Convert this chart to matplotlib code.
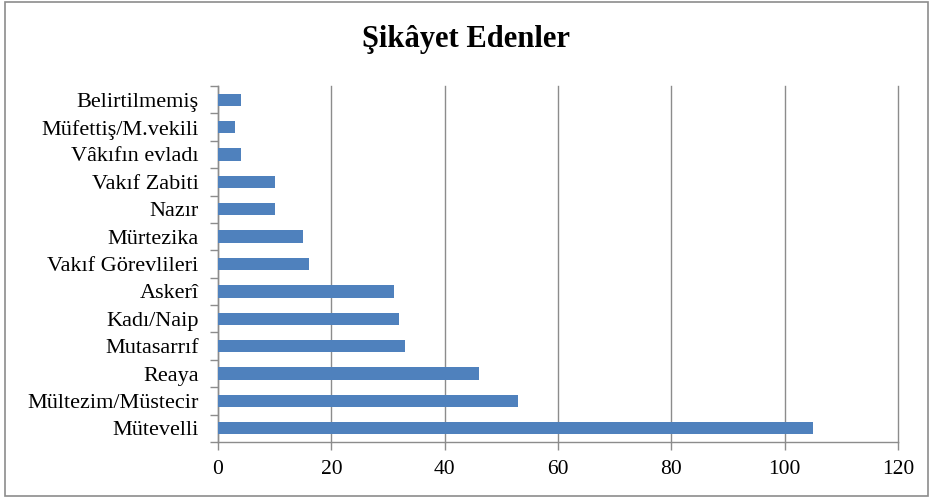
import matplotlib.pyplot as plt
import numpy as np

# veriler (alttan uste)
kategoriler = ['Mütevelli', 'Mültezim/Müstecir', 'Reaya', 'Mutasarrıf', 'Kadı/Naip',
               'Askerî', 'Vakıf Görevlileri', 'Mürtezika', 'Nazır', 'Vakıf Zabiti',
               'Vâkıfın evladı', 'Müfettiş/M.vekili', 'Belirtilmemiş']
degerler = [105, 53, 46, 33, 32, 31, 16, 15, 10, 10, 4, 3, 4]
x_ticks = [0, 20, 40, 60, 80, 100, 120]

plt.rcParams['font.family'] = ['Liberation Serif', 'DejaVu Serif']

fig = plt.figure(figsize=(9.31, 4.99), dpi=100)
ax = fig.add_axes([218 / 931, 1 - 442 / 499, 680 / 931, 356 / 499])

# cerceve
fig.patches.append(plt.Rectangle((5 / 931, 3 / 499), 923 / 931, 494 / 499,
                                 transform=fig.transFigure, fill=False,
                                 edgecolor='#8c8c8c', linewidth=1.2))

y = np.arange(len(kategoriler))
ax.barh(y, degerler, height=0.45, color='#4f81bd', zorder=3)

ax.set_xlim(0, 120)
ax.set_ylim(-0.5, len(kategoriler) - 0.5)
ax.set_xticks(x_ticks)
ax.set_xticklabels([str(t) for t in x_ticks], fontsize=15.5)
ax.set_yticks(y)
ax.set_yticklabels(kategoriler, fontsize=16)
ax.set_yticks(np.arange(-0.5, len(kategoriler), 1), minor=True)

ax.tick_params(axis='y', which='major', length=0, pad=14)
ax.tick_params(axis='y', which='minor', length=6, color='#8c8c8c', width=1)
ax.tick_params(axis='x', length=6, color='#8c8c8c', width=1, pad=7)

ax.grid(axis='x', color='#8c8c8c', linewidth=1, zorder=0)
for gl in ax.get_xgridlines():
    gl.set_clip_on(False)
for s in ['top', 'right']:
    ax.spines[s].set_visible(False)
for s in ['left', 'bottom']:
    ax.spines[s].set_color('#8c8c8c')
    ax.spines[s].set_linewidth(1)

fig.text(0.5, 1 - 40 / 499, 'Şikâyet Edenler', ha='center', va='center',
         fontsize=22, fontweight='bold')

fig.savefig('out.png', dpi=100)
